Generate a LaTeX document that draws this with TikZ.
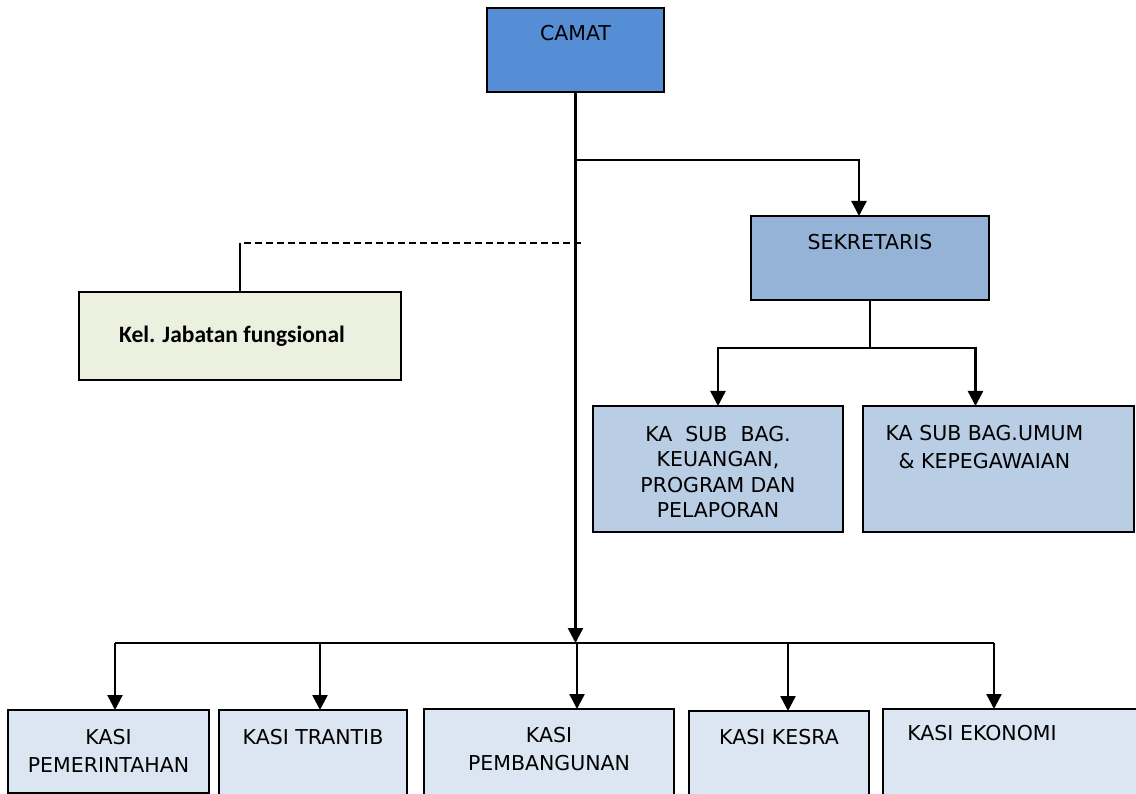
\documentclass[tikz,border=0pt]{standalone}
\usepackage{fontspec}
\setmainfont{DejaVu Sans}
\newfontfamily\fungfont{Carlito}
\usetikzlibrary{arrows.meta}
\definecolor{camatfill}{HTML}{558ED5}
\definecolor{sekfill}{HTML}{95B3D7}
\definecolor{subfill}{HTML}{B9CDE5}
\definecolor{fungfill}{HTML}{EBF1DE}
\definecolor{kasifill}{HTML}{DCE6F2}
\begin{document}
\begin{tikzpicture}[x=1pt, y=-1pt,
            unit/.style={draw, line width=1.8pt, fill=#1, anchor=north west,
                inner sep=0pt, outer sep=0pt},
            unit/.default=kasifill,
            caption/.style={anchor=north, inner sep=0pt, align=center,
                font=\fontsize{20.5}{28}\selectfont},
            link/.style={line width=2.4pt},
            arr/.style={link, -{Triangle[width=15pt,length=15pt]}}
        ]
        \useasboundingbox (0,0) rectangle (1136,794);
        \node[unit=camatfill, minimum width=177pt, minimum height=84pt,
            label={[caption, yshift=-17pt]90:CAMAT}] (camat) at (487,8) {};
        \node[unit=sekfill, minimum width=238pt, minimum height=84pt,
            label={[caption, yshift=-18pt]90:SEKRETARIS}] (sek) at (751,216) {};
        \node[unit=subfill, minimum width=250pt, minimum height=126pt,
            label={[caption, yshift=-20pt, font=\fontsize{20.5}{25.5}\selectfont]90:KA\ \ SUB\ \ BAG.\\KEUANGAN,\\PROGRAM DAN\\PELAPORAN}] (keu) at (593,406) {};
        \node[unit=subfill, minimum width=271pt, minimum height=126pt,
            label={[caption, yshift=-19pt, xshift=-14pt]90:KA SUB BAG.UMUM\\\& KEPEGAWAIAN}] (umum) at (863,406) {};
        \node[unit=fungfill, minimum width=322pt, minimum height=88pt,
            font=\fontsize{23.5}{28}\fungfont\bfseries] (fung) at (79,292) {\hspace*{-16pt}Kel. Jabatan fungsional};
        \node[unit, minimum width=201pt, minimum height=83pt,
            label={[caption, yshift=-19pt]90:KASI\\PEMERINTAHAN}] (kasiA) at (8,710) {};
        \node[unit, minimum width=188pt, minimum height=100pt,
            label={[caption, yshift=-19pt]90:KASI TRANTIB}] (kasiB) at (219,710) {};
        \node[unit, minimum width=250pt, minimum height=100pt,
            label={[caption, yshift=-18pt]90:KASI\\PEMBANGUNAN}] (kasiC) at (424,709) {};
        \node[unit, minimum width=180pt, minimum height=100pt,
            label={[caption, yshift=-18pt]90:KASI KESRA}] (kasiD) at (689,711) {};
        \node[unit, minimum width=260pt, minimum height=100pt,
            label={[caption, yshift=-16pt, xshift=-31pt]90:KASI EKONOMI}] (kasiE) at (883,709) {};

        \draw[arr] (camat.south) -- (camat.south |- 0,643);
        \draw[arr] (camat.south |- 0,160) -| ([xshift=-11pt]sek.north);
        \draw[link, dash pattern=on 7pt off 4pt] ([xshift=5pt]camat.south |- 0,243) -- (fung.north |- 0,243);
        \draw[line width=1.4pt] (fung.north |- 0,243) -- (fung.north);
        \draw[line width=1.2pt] (sek.south) -- (sek.south |- 0,348);
        \draw[arr] (sek.south |- 0,348) -| (keu.north);
        \draw[arr] (sek.south |- 0,348) -| ([xshift=-23pt]umum.north);
        \draw[link] (115,643) -- (994,643);
        \foreach \n/\x in {kasiA/115, kasiB/320, kasiC/577, kasiD/788, kasiE/994}
            \draw[arr] (\x,643) -- (\n.north -| \x,0);
    \end{tikzpicture}
\end{document}
